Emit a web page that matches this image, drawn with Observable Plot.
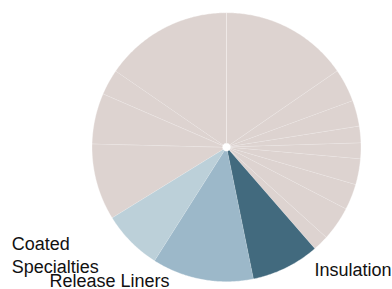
<!DOCTYPE html>
<html>
<head>
<meta charset="utf-8">
<script src="https://cdn.jsdelivr.net/npm/d3@7"></script>
<script src="https://cdn.jsdelivr.net/npm/@observablehq/plot@0.6"></script>
<style>
  html, body { margin: 0; padding: 0; background: #fff; }
  #chart svg { display: block; }
</style>
</head>
<body>
<div id="chart"></div>
<script>
// Slice shares (percent), clockwise from 12 o'clock
const shares = [15.4, 4.0, 3.1, 2.0, 1.9, 3.1, 3.1, 4.1, 1.9, 8.2, 12.2, 7.2, 9.2, 6.1, 3.1, 15.4];
// Category labels ("" = unlabeled segment)
const categories = ["", "", "", "", "", "", "", "", "", "Insulation", "Release Liners", "Coated\nSpecialties", "", "", "", ""];
const groupNames = ["Other", "Insulation", "Release Liners", "Coated\nSpecialties"];
const groupColors = ["#ddd3d0", "#426a7e", "#9cb8c9", "#bcd0d9"];

// Label layout (offsets from slice mid-angle point on the rim)
const labelLayout = {
  "Insulation": {dx: 28.5, dy: 8.5, anchor: "start"},
  "Release Liners": {dx: -32.5, dy: 7.5, anchor: "end"},
  "Coated\nSpecialties": {dx: -119, dy: 31, anchor: "start"}
};

const innerR = 0.03;
const arcs = d3.pie().sort(null).startAngle(0).endAngle(2 * Math.PI)(shares);

const points = [];
arcs.forEach((a, i) => {
  const key = "s" + i;
  const group = categories[i] || "Other";
  const steps = Math.max(2, Math.ceil((a.endAngle - a.startAngle) / 0.01));
  for (let k = 0; k <= steps; ++k) {
    const t = a.startAngle + (a.endAngle - a.startAngle) * k / steps;
    points.push({key, group, x: Math.sin(t), y: Math.cos(t)});
  }
  for (let k = steps; k >= 0; --k) {
    const t = a.startAngle + (a.endAngle - a.startAngle) * k / steps;
    points.push({key, group, x: innerR * Math.sin(t), y: innerR * Math.cos(t)});
  }
});

const labelMarks = arcs
  .map((a, i) => ({a, name: categories[i]}))
  .filter(d => d.name)
  .map(d => {
    const mid = (d.a.startAngle + d.a.endAngle) / 2;
    const L = labelLayout[d.name];
    return Plot.text([{x: Math.sin(mid), y: Math.cos(mid), text: d.name}], {
      x: "x", y: "y", text: "text",
      textAnchor: L.anchor, lineAnchor: "bottom",
      dx: L.dx, dy: L.dy,
      fontSize: 18, lineHeight: 1.26,
      fill: "#111",
      fontFamily: "Liberation Sans, Arial, sans-serif"
    });
  });

const chart = Plot.plot({
  width: 392,
  height: 289,
  marginLeft: 91.5,
  marginRight: 31.5,
  marginTop: 12.2,
  marginBottom: 7.8,
  x: {domain: [-1, 1], axis: null},
  y: {domain: [-1, 1], axis: null},
  color: {domain: groupNames, range: groupColors},
  style: {background: "#fff", overflow: "visible"},
  marks: [
    Plot.line(points, {x: "x", y: "y", z: "key", fill: "group", stroke: "#fff", strokeWidth: 0.5, strokeOpacity: 0.7}),
    ...labelMarks
  ]
});
document.getElementById("chart").appendChild(chart);
</script>
</body>
</html>
